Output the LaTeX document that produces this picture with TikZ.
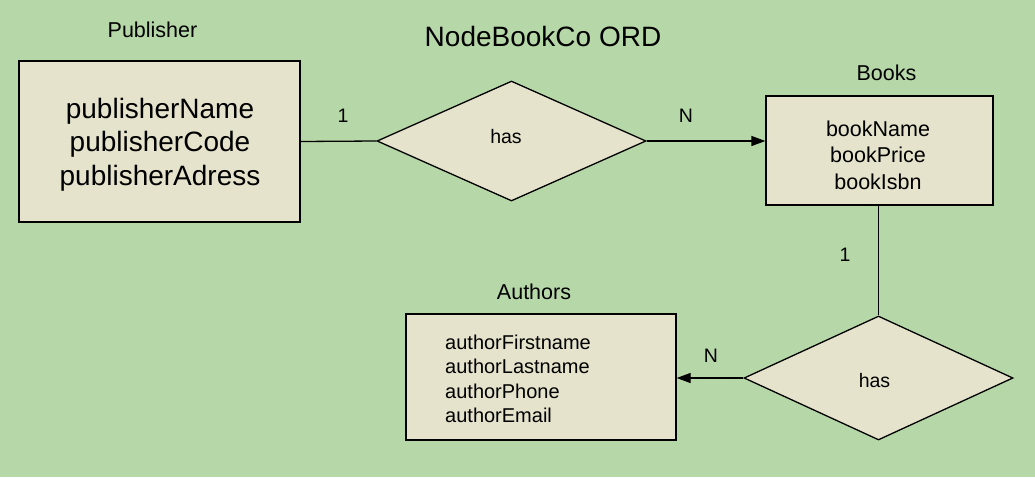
\documentclass[tikz,border=0pt]{standalone}
\usepackage{fontspec}
\setmainfont{Liberation Sans}
\usetikzlibrary{shapes.geometric,arrows.meta}
\definecolor{bgGreen}{HTML}{B6D7A8}
\definecolor{boxFill}{HTML}{E5E3CB}
\tikzset{
  entitybox/.style={draw=black, fill=boxFill, line width=1.3pt, rectangle, inner sep=0pt},
  relshape/.style={draw=black, fill=boxFill, line width=1.3pt, diamond, aspect=2.2, inner sep=0pt, minimum width=269pt},
  reltext/.style={inner sep=0pt, font=\fontsize{19.5}{23}\selectfont},
  conn/.style={line width=1.3pt, draw=black},
  arr/.style={conn, -{Triangle[length=14pt,width=10pt]}},
  lbl/.style={font=\fontsize{21.5}{25}\selectfont, inner sep=0pt},
  card/.style={font=\fontsize{19.5}{22}\selectfont, inner sep=0pt},
}
\begin{document}
\begin{tikzpicture}[x=1pt,y=-1pt]
\fill[bgGreen] (0,0) rectangle (1035,477);
\useasboundingbox (0,0) rectangle (1035,477);

% title
\node[inner sep=0pt, font=\fontsize{28}{32}\selectfont] (title) at (543,36) {NodeBookCo ORD};

% entity labels
\node[lbl] (publbl) at (152.5,30) {Publisher};
\node[lbl] (bookslbl) at (886.5,73) {Books};
\node[lbl] (authlbl) at (534,292) {Authors};

% entities
\node[entitybox, minimum width=281pt, minimum height=161pt] (publisher) at (159.5,141.5) {};
\node[inner sep=0pt, align=center, font=\fontsize{28}{33.5}\selectfont] (pubattr) at (160,144.5)
  {publisherName\\publisherCode\\publisherAdress};

\node[entitybox, minimum width=227pt, minimum height=109pt] (books) at (879.5,150.5) {};
\node[inner sep=0pt, align=center, font=\fontsize{21.5}{26.5}\selectfont] (booksattr) at (878,155)
  {bookName\\bookPrice\\bookIsbn};

\node[entitybox, minimum width=270pt, minimum height=126pt] (authors) at (541,377) {};
\node[inner sep=0pt, anchor=west, align=left, font=\fontsize{20}{24.5}\selectfont] (authattr) at (445,379)
  {authorFirstname\\authorLastname\\authorPhone\\authorEmail};

% relationships
\node[relshape, minimum height=120pt] (has1) at (511.5,141) {};
\node[reltext] (has1txt) at (506,137) {has};
\node[relshape, minimum height=124pt] (has2) at (878.5,378) {};
\node[reltext] (has2txt) at (874.5,381) {has};

% connectors
\draw[conn] (publisher.east) -- (has1.west);
\draw[arr] (has1.east) -- (books.west |- has1.east);
\draw[conn] (books.south -| has2.north) -- (has2.north);
\draw[arr] (has2.west) -- (authors.east |- has2.west);

% cardinalities
\node[card] (c1) at (343,116) {1};
\node[card] (c2) at (686,116) {N};
\node[card] (c3) at (845,255) {1};
\node[card] (c4) at (711,356) {N};
\end{tikzpicture}
\end{document}
